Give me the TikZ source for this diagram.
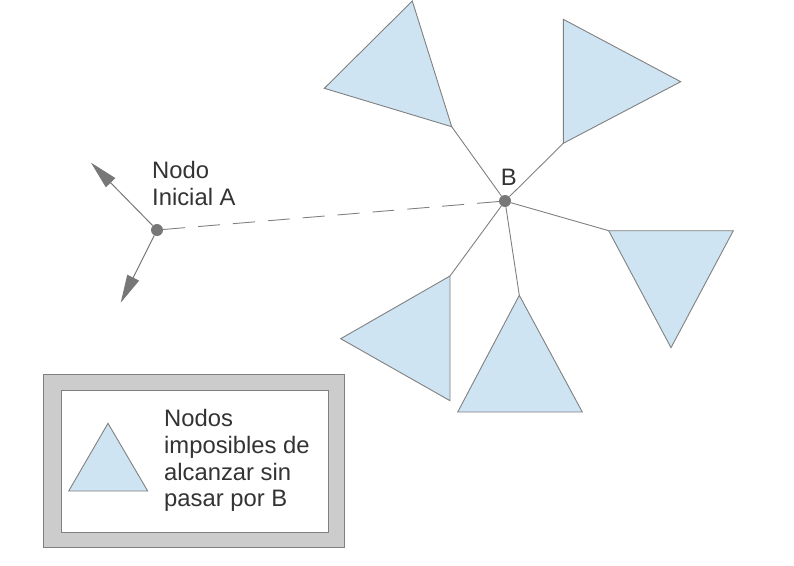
\documentclass[tikz,border=0pt]{standalone}
\usepackage{fontspec}
\setmainfont{Liberation Sans}
\usetikzlibrary{arrows.meta}
\definecolor{tri}{HTML}{CFE4F2}
\definecolor{edge}{HTML}{808080}
\definecolor{dotc}{HTML}{777777}
\definecolor{txt}{HTML}{333333}
\definecolor{frame}{HTML}{CCCCCC}
\begin{document}
\begin{tikzpicture}[x=1pt,y=-1pt,
  trishape/.style={fill=tri,draw=edge,line width=0.9pt,line join=miter},
  link/.style={draw=edge,line width=0.9pt},
  dot/.style={circle,fill=dotc,inner sep=0pt,minimum size=12pt},
  lbl/.style={text=txt,inner sep=0pt,font=\fontsize{23.8}{26.7}\selectfont},
  arr/.style={draw=dotc,line width=1pt,-{Triangle[length=28pt,width=13pt]}}]
\useasboundingbox (0,0) rectangle (794,565);
% nodes
\node[dot] (A) at (157,230) {};
\node[dot] (B) at (505,201) {};
\node[lbl,anchor=base] (Blbl) at (508.7,185) {B};
\node[lbl,anchor=base west,align=left] (Albl) at (152,205) {Nodo\\Inicial A};
% arrows from A
\coordinate (a1) at (91,162.7);
\coordinate (a2) at (120.7,302.7);
\draw[arr] (A) -- (a1);
\draw[arr] (A) -- (a2);
% dashed A-B
\draw[link,dash pattern=on 22pt off 13pt] (A) -- (B);
% triangles
\coordinate (t1) at (451.7,126.7);
\coordinate (t2) at (563.3,143.3);
\coordinate (t3) at (608.7,230.7);
\coordinate (t4) at (519.3,295.3);
\coordinate (t5) at (450,276);
\path[trishape] (t1) -- (324.3,88.3) -- (412.3,1) -- cycle;
\path[trishape] (t2) -- (563.3,19.3) -- (680.7,81.7) -- cycle;
\path[trishape] (t3) -- (733.3,230.7) -- (671,347.7) -- cycle;
\path[trishape] (t4) -- (582.3,412) -- (457.7,412) -- cycle;
\path[trishape] (t5) -- (340.7,338.7) -- (450,400.7) -- cycle;
\draw[link] (B) -- (t1);
\draw[link] (B) -- (t2);
\draw[link] (B) -- (t3);
\draw[link] (B) -- (t4);
\draw[link] (B) -- (t5);
% legend
\node[draw=edge,fill=frame,line width=1pt,minimum width=301pt,minimum height=173.7pt,inner sep=0pt] (legout) at (193.8,460.85) {};
\node[draw=edge,fill=white,line width=1pt,minimum width=266.6pt,minimum height=141.6pt,inner sep=0pt] (legin) at (195,461.5) {};
\path[trishape] (108,423.3) -- (147.7,491) -- (68.7,491) -- cycle;
\node[lbl,anchor=base west,align=left] (legtxt) at (164,506.7) {Nodos\\imposibles de\\alcanzar sin\\pasar por B};
\end{tikzpicture}
\end{document}
